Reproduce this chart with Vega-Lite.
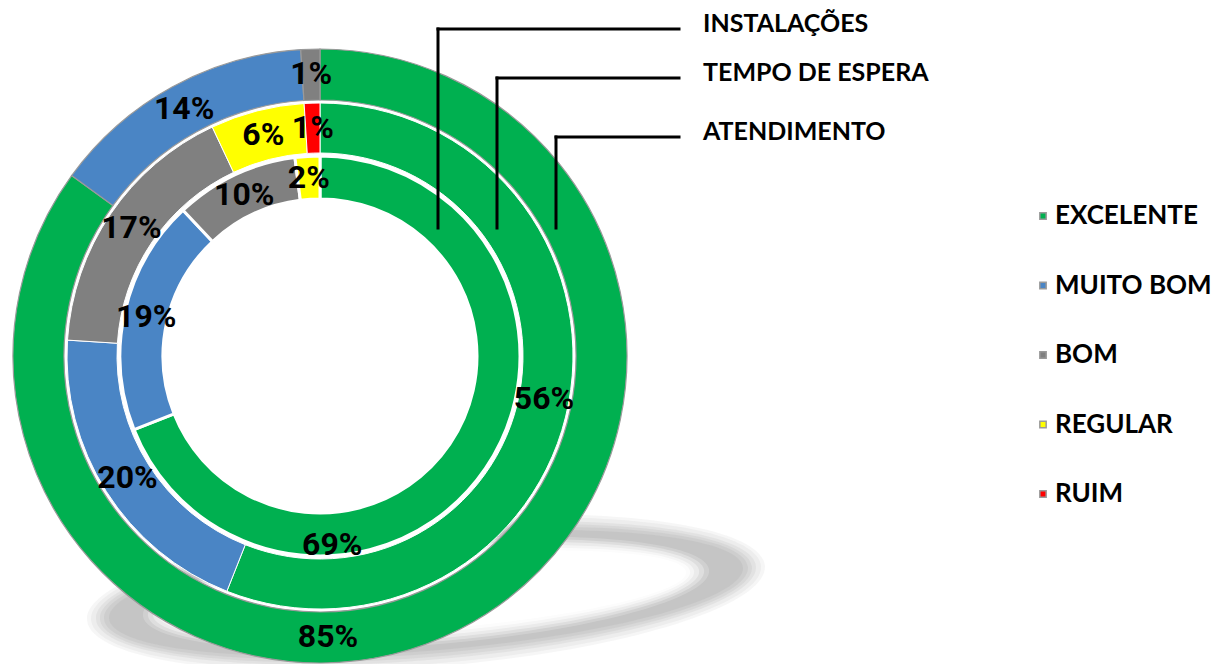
{
  "$schema": "https://vega.github.io/schema/vega-lite/v6.json",
  "width": 1219,
  "height": 664,
  "autosize": "none",
  "padding": 0,
  "background": "white",
  "config": {"view": {"stroke": null}},
  "datasets": {
    "avaliacao": [
      {"anel": "ATENDIMENTO", "conceito": "EXCELENTE", "ordem": 1, "valor": 0.85},
      {"anel": "ATENDIMENTO", "conceito": "MUITO BOM", "ordem": 2, "valor": 0.14},
      {"anel": "ATENDIMENTO", "conceito": "BOM", "ordem": 3, "valor": 0.01},
      {"anel": "TEMPO DE ESPERA", "conceito": "EXCELENTE", "ordem": 1, "valor": 0.56},
      {"anel": "TEMPO DE ESPERA", "conceito": "MUITO BOM", "ordem": 2, "valor": 0.20},
      {"anel": "TEMPO DE ESPERA", "conceito": "BOM", "ordem": 3, "valor": 0.17},
      {"anel": "TEMPO DE ESPERA", "conceito": "REGULAR", "ordem": 4, "valor": 0.06},
      {"anel": "TEMPO DE ESPERA", "conceito": "RUIM", "ordem": 5, "valor": 0.01},
      {"anel": "INSTALAÇÕES", "conceito": "EXCELENTE", "ordem": 1, "valor": 0.69},
      {"anel": "INSTALAÇÕES", "conceito": "MUITO BOM", "ordem": 2, "valor": 0.19},
      {"anel": "INSTALAÇÕES", "conceito": "BOM", "ordem": 3, "valor": 0.10},
      {"anel": "INSTALAÇÕES", "conceito": "REGULAR", "ordem": 4, "valor": 0.02}
    ],
    "chamadas": [
      {"anel": "INSTALAÇÕES", "xv": 118, "yh": 327, "yb": 128, "xe": 359},
      {"anel": "TEMPO DE ESPERA", "xv": 177, "yh": 278, "yb": 128, "xe": 359},
      {"anel": "ATENDIMENTO", "xv": 236, "yh": 219, "yb": 128, "xe": 359}
    ]
  },
  "layer": [
    {
      "data": {"values": [{}]},
      "layer": [
        {"mark": {"type": "point", "shape": "M-1,0A1,0.218 0 1,0 1,0A1,0.218 0 1,0 -1,0Z", "size": 462400, "angle": 355.4, "filled": true, "fill": "#aaaaaa", "opacity": 0.1, "strokeWidth": 0}},
        {"mark": {"type": "point", "shape": "M-1,0A1,0.211 0 1,0 1,0A1,0.211 0 1,0 -1,0Z", "size": 451584, "angle": 355.4, "filled": true, "fill": "#aaaaaa", "opacity": 0.12, "strokeWidth": 0}},
        {"mark": {"type": "point", "shape": "M-1,0A1,0.202 0 1,0 1,0A1,0.202 0 1,0 -1,0Z", "size": 438244, "angle": 355.4, "filled": true, "fill": "#aaaaaa", "opacity": 0.15, "strokeWidth": 0}},
        {"mark": {"type": "point", "shape": "M-1,0A1,0.196 0 1,0 1,0A1,0.196 0 1,0 -1,0Z", "size": 427716, "angle": 355.4, "filled": true, "fill": "#aaaaaa", "opacity": 0.18, "strokeWidth": 0}},
        {"mark": {"type": "point", "shape": "M-1,0A1,0.189 0 1,0 1,0A1,0.189 0 1,0 -1,0Z", "size": 417316, "angle": 355.4, "filled": true, "fill": "#aaaaaa", "opacity": 0.2, "strokeWidth": 0}},
        {"mark": {"type": "point", "shape": "M-1,0A1,0.182 0 1,0 1,0A1,0.182 0 1,0 -1,0Z", "size": 404496, "angle": 355.4, "filled": true, "fill": "#aaaaaa", "opacity": 0.22, "strokeWidth": 0}},
        {"mark": {"type": "point", "shape": "M-1,0A1,0.183 0 1,0 1,0A1,0.183 0 1,0 -1,0Z", "size": 322624, "angle": 355.4, "filled": true, "fill": "white", "opacity": 0.2, "strokeWidth": 0}},
        {"mark": {"type": "point", "shape": "M-1,0A1,0.176 0 1,0 1,0A1,0.176 0 1,0 -1,0Z", "size": 311364, "angle": 355.4, "filled": true, "fill": "white", "opacity": 0.3, "strokeWidth": 0}},
        {"mark": {"type": "point", "shape": "M-1,0A1,0.168 0 1,0 1,0A1,0.168 0 1,0 -1,0Z", "size": 300304, "angle": 355.4, "filled": true, "fill": "white", "opacity": 0.4, "strokeWidth": 0}},
        {"mark": {"type": "point", "shape": "M-1,0A1,0.16 0 1,0 1,0A1,0.16 0 1,0 -1,0Z", "size": 289444, "angle": 355.4, "filled": true, "fill": "white", "opacity": 0.5, "strokeWidth": 0}},
        {"mark": {"type": "point", "shape": "M-1,0A1,0.151 0 1,0 1,0A1,0.151 0 1,0 -1,0Z", "size": 280900, "angle": 355.4, "filled": true, "fill": "white", "opacity": 0.7, "strokeWidth": 0}},
        {"mark": {"type": "point", "shape": "M-1,0A1,0.142 0 1,0 1,0A1,0.142 0 1,0 -1,0Z", "size": 272484, "angle": 355.4, "filled": true, "fill": "white", "opacity": 1, "strokeWidth": 0}}
      ],
      "encoding": {
        "x": {"datum": 106, "type": "quantitative", "scale": {"domain": [-320, 899], "nice": false, "zero": false}, "axis": null},
        "y": {"datum": -237, "type": "quantitative", "scale": {"domain": [-308, 356], "nice": false, "zero": false}, "axis": null}
      }
    },
    {
      "data": {"values": [{}]},
      "mark": {"type": "point", "shape": "circle", "size": 207500, "filled": true, "fill": "white", "opacity": 1, "strokeWidth": 0},
      "encoding": {
        "x": {"datum": 0, "type": "quantitative", "scale": {"domain": [-320, 899], "nice": false, "zero": false}, "axis": null},
        "y": {"datum": 0, "type": "quantitative", "scale": {"domain": [-308, 356], "nice": false, "zero": false}, "axis": null}
      }
    },
    {
      "data": {"name": "avaliacao"},
      "transform": [{"filter": "datum.anel === 'ATENDIMENTO'"}],
      "mark": {"type": "arc", "radius": 307, "radius2": 256, "stroke": "#9a9a9a", "strokeWidth": 1.2},
      "encoding": {
        "x": {"datum": 0, "type": "quantitative", "scale": {"domain": [-320, 899], "nice": false, "zero": false}, "axis": null},
        "y": {"datum": 0, "type": "quantitative", "scale": {"domain": [-308, 356], "nice": false, "zero": false}, "axis": null},
        "theta": {"field": "valor", "type": "quantitative", "stack": true},
        "order": {"field": "ordem"},
        "color": {"field": "conceito", "type": "nominal", "scale": {"domain": ["EXCELENTE", "MUITO BOM", "BOM", "REGULAR", "RUIM"], "range": ["#00B050", "#4A85C5", "#808080", "#FFFF00", "#FF0000"]}, "legend": {"title": null, "orient": "none", "legendX": 1030, "legendY": 203, "symbolType": "square", "symbolSize": 40, "labelFont": "Lato", "labelFontSize": 26, "labelFontWeight": "bold", "labelColor": "black", "labelOffset": -1, "rowPadding": 43.5, "padding": 0}}
      }
    },
    {
      "data": {"name": "avaliacao"},
      "transform": [{"filter": "datum.anel === 'TEMPO DE ESPERA'"}],
      "mark": {"type": "arc", "radius": 253, "radius2": 203, "stroke": "white", "strokeWidth": 1},
      "encoding": {
        "x": {"datum": 0, "type": "quantitative", "scale": {"domain": [-320, 899], "nice": false, "zero": false}, "axis": null},
        "y": {"datum": 0, "type": "quantitative", "scale": {"domain": [-308, 356], "nice": false, "zero": false}, "axis": null},
        "theta": {"field": "valor", "type": "quantitative", "stack": true},
        "order": {"field": "ordem"},
        "color": {"field": "conceito", "type": "nominal"}
      }
    },
    {
      "data": {"name": "avaliacao"},
      "transform": [{"filter": "datum.anel === 'INSTALAÇÕES'"}],
      "mark": {"type": "arc", "radius": 200, "radius2": 157, "stroke": "white", "strokeWidth": 3},
      "encoding": {
        "x": {"datum": 0, "type": "quantitative", "scale": {"domain": [-320, 899], "nice": false, "zero": false}, "axis": null},
        "y": {"datum": 0, "type": "quantitative", "scale": {"domain": [-308, 356], "nice": false, "zero": false}, "axis": null},
        "theta": {"field": "valor", "type": "quantitative", "stack": true},
        "order": {"field": "ordem"},
        "color": {"field": "conceito", "type": "nominal"}
      }
    },
    {
      "data": {"name": "avaliacao"},
      "transform": [{"filter": "datum.anel === 'ATENDIMENTO'"}],
      "layer": [
        {
          "mark": {"type": "text", "radius": 282, "font": "Roboto", "fontWeight": "bold", "fontSize": 32, "color": "black", "align": "center", "baseline": "middle"},
          "encoding": {
            "text": {"condition": {"test": "datum.conceito !== 'EXCELENTE'", "field": "valor", "type": "quantitative", "format": ".0%"}, "value": ""}
          }
        },
        {
          "mark": {"type": "text", "radius": 282, "dx": -120, "dy": 30, "font": "Roboto", "fontWeight": "bold", "fontSize": 32, "color": "black", "align": "center", "baseline": "middle"},
          "encoding": {
            "text": {"condition": {"test": "datum.conceito === 'EXCELENTE'", "field": "valor", "type": "quantitative", "format": ".0%"}, "value": ""}
          }
        }
      ],
      "encoding": {
        "x": {"datum": 0, "type": "quantitative", "scale": {"domain": [-320, 899], "nice": false, "zero": false}, "axis": null},
        "y": {"datum": 0, "type": "quantitative", "scale": {"domain": [-308, 356], "nice": false, "zero": false}, "axis": null},
        "theta": {"field": "valor", "type": "quantitative", "stack": true},
        "order": {"field": "ordem"}
      }
    },
    {
      "data": {"name": "avaliacao"},
      "transform": [{"filter": "datum.anel === 'TEMPO DE ESPERA'"}],
      "mark": {"type": "text", "radius": 228, "font": "Roboto", "fontWeight": "bold", "fontSize": 32, "color": "black", "align": "center", "baseline": "middle"},
      "encoding": {
        "x": {"datum": 0, "type": "quantitative", "scale": {"domain": [-320, 899], "nice": false, "zero": false}, "axis": null},
        "y": {"datum": 0, "type": "quantitative", "scale": {"domain": [-308, 356], "nice": false, "zero": false}, "axis": null},
        "theta": {"field": "valor", "type": "quantitative", "stack": true},
        "order": {"field": "ordem"},
        "text": {"field": "valor", "type": "quantitative", "format": ".0%"}
      }
    },
    {
      "data": {"name": "avaliacao"},
      "transform": [{"filter": "datum.anel === 'INSTALAÇÕES'"}],
      "layer": [
        {
          "mark": {"type": "text", "radius": 178, "font": "Roboto", "fontWeight": "bold", "fontSize": 32, "color": "black", "align": "center", "baseline": "middle"},
          "encoding": {
            "text": {"condition": {"test": "datum.conceito !== 'EXCELENTE'", "field": "valor", "type": "quantitative", "format": ".0%"}, "value": ""}
          }
        },
        {
          "mark": {"type": "text", "radius": 178, "dx": -135, "dy": 89, "font": "Roboto", "fontWeight": "bold", "fontSize": 32, "color": "black", "align": "center", "baseline": "middle"},
          "encoding": {
            "text": {"condition": {"test": "datum.conceito === 'EXCELENTE'", "field": "valor", "type": "quantitative", "format": ".0%"}, "value": ""}
          }
        }
      ],
      "encoding": {
        "x": {"datum": 0, "type": "quantitative", "scale": {"domain": [-320, 899], "nice": false, "zero": false}, "axis": null},
        "y": {"datum": 0, "type": "quantitative", "scale": {"domain": [-308, 356], "nice": false, "zero": false}, "axis": null},
        "theta": {"field": "valor", "type": "quantitative", "stack": true},
        "order": {"field": "ordem"}
      }
    },
    {
      "data": {"name": "chamadas"},
      "mark": {"type": "rule", "color": "black", "strokeWidth": 3, "strokeCap": "square"},
      "encoding": {
        "x": {"field": "xv", "type": "quantitative", "scale": {"domain": [-320, 899], "nice": false, "zero": false}, "axis": null},
        "y": {"field": "yb", "type": "quantitative", "scale": {"domain": [-308, 356], "nice": false, "zero": false}, "axis": null},
        "y2": {"field": "yh"}
      }
    },
    {
      "data": {"name": "chamadas"},
      "mark": {"type": "rule", "color": "black", "strokeWidth": 3, "strokeCap": "square"},
      "encoding": {
        "x": {"field": "xv", "type": "quantitative", "scale": {"domain": [-320, 899], "nice": false, "zero": false}, "axis": null},
        "x2": {"field": "xe"},
        "y": {"field": "yh", "type": "quantitative", "scale": {"domain": [-308, 356], "nice": false, "zero": false}, "axis": null}
      }
    },
    {
      "data": {"name": "chamadas"},
      "mark": {"type": "text", "align": "left", "baseline": "middle", "dx": 24, "dy": -5, "font": "Lato", "fontWeight": "bold", "fontSize": 25, "color": "black"},
      "encoding": {
        "x": {"field": "xe", "type": "quantitative", "scale": {"domain": [-320, 899], "nice": false, "zero": false}, "axis": null},
        "y": {"field": "yh", "type": "quantitative", "scale": {"domain": [-308, 356], "nice": false, "zero": false}, "axis": null},
        "text": {"field": "anel", "type": "nominal"}
      }
    }
  ]
}
